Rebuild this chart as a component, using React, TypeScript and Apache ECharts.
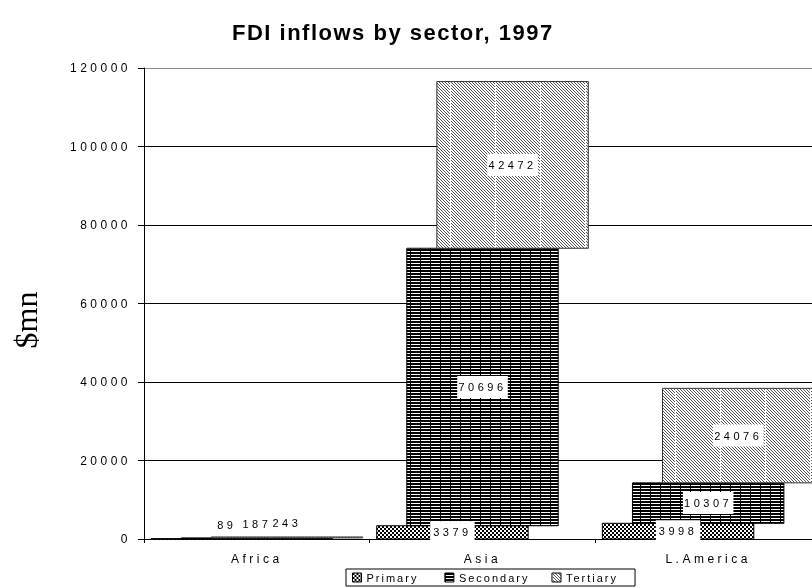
import React, { useEffect, useRef } from 'react';
import * as echarts from 'echarts';

const titleText = 'FDI inflows by sector, 1997';
const yAxisTitle = '$mn';
const categories = ['Africa', 'Asia', 'L.America'];
const seriesNames = ['Primary', 'Secondary', 'Tertiary'];
const primary = [89, 3379, 3998];
const secondary = [187, 70696, 10307];
const tertiary = [243, 42472, 24076];
const yMin = 0;
const yMax = 120000;
const yInterval = 20000;

const BAR_WIDTH_RATIO = 0.671;
const SHIFT_RATIO = 0.1333;
const SANS = 'Liberation Sans, Helvetica';

function makeTile(w: number, h: number, fn: (x: number, y: number) => string) {
  const c = document.createElement('canvas');
  c.width = w;
  c.height = h;
  const ctx = c.getContext('2d')!;
  for (let y = 0; y < h; y++) {
    for (let x = 0; x < w; x++) {
      ctx.fillStyle = fn(x, y);
      ctx.fillRect(x, y, 1, 1);
    }
  }
  return { image: c.toDataURL(), repeat: 'repeat', imageWidth: w, imageHeight: h } as any;
}

const css = `
#root svg text { letter-spacing: 3.5px; }
#root svg text[style*="Arial"] { letter-spacing: 2px; }
#root svg text[style*="bold"] { letter-spacing: 1.5px; }
#root svg text[style*="Serif"] { letter-spacing: 0px; }
`;

export default function App() {
  const ref = useRef<HTMLDivElement>(null);
  useEffect(() => {
    if (!ref.current) return;
    const chart = echarts.init(ref.current, null, { renderer: 'svg' });

    const patPrimary = makeTile(4, 4, (x, y) => (((x >> 1) + (y >> 1)) % 2 === 0 ? '#000' : '#fff'));
    const patSecondary = makeTile(10, 3, (x, y) => (y < 2 ? '#000' : x === 0 ? '#000' : '#fff'));
    const patTertiary = makeTile(45, 3, (x, y) => (x === 0 ? '#fff' : (x - y + 300) % 3 === 0 ? '#555' : '#fff'));
    const patterns = [patPrimary, patSecondary, patTertiary];
    const borders = ['#000', '#000', '#333'];

    const values = [primary, secondary, tertiary];
    const bases = [
      categories.map(() => 0),
      categories.map((_, i) => primary[i]),
      categories.map((_, i) => primary[i] + secondary[i]),
    ];

    const makeSeries = (s: number) => ({
      type: 'custom',
      name: seriesNames[s],
      itemStyle: { color: patterns[s], borderColor: '#000', borderWidth: 1 },
      encode: { x: 0, y: 2 },
      data: categories.map((_, i) => [i, bases[s][i], values[s][i]]),
      renderItem: (params: any, api: any) => {
        const i = api.value(0);
        const base = api.value(1);
        const v = api.value(2);
        const p1 = api.coord([i, base + v]);
        const p0 = api.coord([i, base]);
        const band = api.size([1, 0])[0];
        const w = band * BAR_WIDTH_RATIO;
        const cx = p0[0] + band * SHIFT_RATIO * (s - 1);
        const h = p0[1] - p1[1];
        const inside = h >= 6;
        const labelY = inside ? (p0[1] + p1[1]) / 2 : p1[1] - 14;
        return {
          type: 'group',
          children: [
            {
              type: 'rect',
              shape: { x: cx - w / 2, y: p1[1], width: w, height: Math.max(h, 0.5) },
              style: { fill: patterns[s], stroke: borders[s], lineWidth: 1 },
            },
            {
              type: 'text',
              x: cx,
              y: labelY,
              z2: 100,
              style: {
                text: String(v),
                align: 'center',
                verticalAlign: 'middle',
                font: '11px ' + SANS,
                fill: '#000',
                backgroundColor: inside ? '#fff' : 'transparent',
                padding: [6, 10, 5, 10],
              },
            },
          ],
        };
      },
    });

    chart.setOption({
      animation: false,
      title: {
        text: titleText,
        left: 232,
        top: 21,
        padding: 0,
        textStyle: { fontSize: 22, fontWeight: 'bold', fontFamily: SANS, color: '#000' },
      },
      legend: {
        left: 346,
        top: 569,
        orient: 'horizontal',
        borderColor: '#000',
        borderWidth: 1,
        borderRadius: 0,
        padding: [3, 33, 3, 6],
        itemGap: 40,
        itemWidth: 9,
        itemHeight: 9,
        icon: 'rect',
        selectedMode: false,
        textStyle: { fontSize: 11, fontFamily: SANS.replace('Helvetica', 'Arial'), color: '#000' },
        data: seriesNames.map((n, s) => ({
          name: n,
          itemStyle: { color: patterns[s], borderColor: '#000', borderWidth: 1 },
        })),
      },
      graphic: [
        {
          type: 'text',
          x: 26,
          y: 320,
          rotation: Math.PI / 2,
          style: {
            text: yAxisTitle,
            align: 'center',
            verticalAlign: 'middle',
            font: '32px Liberation Serif, Times',
            fill: '#000',
          },
        },
      ],
      grid: { left: 144, top: 68, width: 677, height: 471, containLabel: false },
      xAxis: {
        type: 'category',
        data: categories,
        boundaryGap: true,
        axisLine: { show: true, lineStyle: { color: '#000', width: 1 } },
        axisTick: { show: true, length: 4, alignWithLabel: false, lineStyle: { color: '#000' } },
        axisLabel: { fontSize: 12, fontFamily: SANS, color: '#000', margin: 14 },
        splitLine: { show: false },
      },
      yAxis: {
        type: 'value',
        min: yMin,
        max: yMax,
        interval: yInterval,
        axisLine: { show: true, lineStyle: { color: '#000', width: 1 } },
        axisTick: { show: true, length: 6, lineStyle: { color: '#000' } },
        axisLabel: {
          fontSize: 12,
          fontFamily: SANS,
          color: '#000',
          margin: 13,
          formatter: (v: number) => String(v),
        },
        splitLine: {
          show: true,
          lineStyle: { color: ['#000', '#000', '#000', '#000', '#000', '#000', '#888'], width: 1 },
        },
      },
      series: [0, 1, 2].map(makeSeries),
    } as any);

    return () => chart.dispose();
  }, []);

  return (
    <>
      <style>{css}</style>
      <div style={{ position: 'fixed', left: 0, top: 0, width: 812, height: 588, overflow: 'hidden' }}>
        <div ref={ref} style={{ width: 830, height: 588 }} />
      </div>
    </>
  );
}
